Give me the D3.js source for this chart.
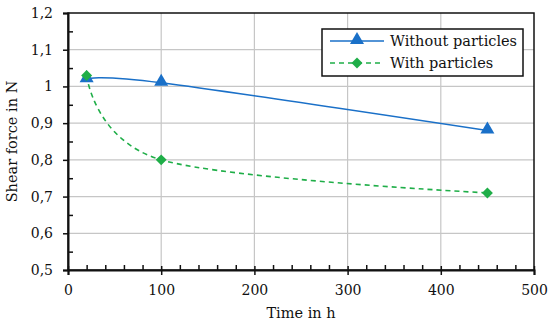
<!DOCTYPE html>
<html>
<head>
<meta charset="utf-8">
<script src="https://cdn.jsdelivr.net/npm/d3@7"></script>
<style>
  body { margin: 0; background: #fff; }
  text { font-family: "DejaVu Serif", serif; fill: #111; }
</style>
</head>
<body>
<svg width="550" height="325"></svg>
<script>
var timeHours = [20, 100, 450];
var withoutParticles = [1.02, 1.01, 0.88];
var withParticles = [1.03, 0.80, 0.71];
var xTicks = [0, 100, 200, 300, 400, 500];
var yTicks = [0.5, 0.6, 0.7, 0.8, 0.9, 1.0, 1.1, 1.2];
var seriesNames = ['Without particles', 'With particles'];

var width = 550;
var height = 325;
var borders = { top: 13, right: 16, bottom: 55, left: 68 };

var svg = d3.select('svg');

var xScale = d3.scaleLinear()
  .domain([0, 500])
  .range([borders.left, width - borders.right]);

var yScale = d3.scaleLinear()
  .domain([0.5, 1.2])
  .range([height - borders.bottom, borders.top]);

var fmt = function(d) { return d3.format('.1f')(d).replace('.0', '').replace('.', ','); };

// grid
svg.append('g').selectAll('line')
  .data(xTicks.slice(1, -1))
  .enter().append('line')
  .attr('x1', d => xScale(d)).attr('x2', d => xScale(d))
  .attr('y1', yScale(0.5)).attr('y2', yScale(1.2))
  .attr('stroke', '#c6c6c6').attr('stroke-width', 1.2);

svg.append('g').selectAll('line')
  .data(yTicks.slice(1, -1))
  .enter().append('line')
  .attr('x1', xScale(0)).attr('x2', xScale(500))
  .attr('y1', d => yScale(d)).attr('y2', d => yScale(d))
  .attr('stroke', '#c6c6c6').attr('stroke-width', 1.2);

// frame
svg.append('rect')
  .attr('x', xScale(0)).attr('y', yScale(1.2))
  .attr('width', xScale(500) - xScale(0))
  .attr('height', yScale(0.5) - yScale(1.2))
  .attr('fill', 'none').attr('stroke', '#111').attr('stroke-width', 1.5);

// bottom axis: major ticks outside, minor ticks inside
var xAxis = svg.append('g')
  .attr('transform', 'translate(0,' + yScale(0.5) + ')')
  .call(d3.axisBottom(xScale).tickValues(xTicks).tickSize(5).tickPadding(10).tickFormat(d3.format('d')));
xAxis.select('.domain').attr('stroke-width', 2).attr('stroke', '#111');
xAxis.selectAll('.tick line').attr('stroke-width', 1.5).attr('y1', -4).attr('stroke', '#111');
xAxis.selectAll('text').attr('font-size', '14px').attr('fill', '#111').style('font-family', '"DejaVu Serif", serif');

svg.append('g').attr('transform', 'translate(0,' + yScale(0.5) + ')')
  .call(d3.axisBottom(xScale).tickValues(d3.range(20, 500, 20).filter(d => d % 100)).tickSize(-5).tickFormat(''))
  .call(g => g.select('.domain').remove())
  .selectAll('.tick line').attr('stroke-width', 1.5).attr('stroke', '#111');

// left axis
var yAxis = svg.append('g')
  .attr('transform', 'translate(' + xScale(0) + ',0)')
  .call(d3.axisLeft(yScale).tickValues(yTicks).tickSize(5).tickPadding(10).tickFormat(fmt));
yAxis.select('.domain').attr('stroke-width', 2).attr('stroke', '#111');
yAxis.selectAll('.tick line').attr('stroke-width', 1.5).attr('stroke', '#111');
yAxis.selectAll('text').attr('font-size', '14px').attr('fill', '#111').style('font-family', '"DejaVu Serif", serif');

svg.append('g').attr('transform', 'translate(' + xScale(0) + ',0)')
  .call(d3.axisLeft(yScale).tickValues(d3.range(0.55, 1.2, 0.1)).tickSize(-5).tickFormat(''))
  .call(g => g.select('.domain').remove())
  .selectAll('.tick line').attr('stroke-width', 1.5).attr('stroke', '#111');

// axis titles
svg.append('text')
  .text('Time in h')
  .attr('text-anchor', 'middle')
  .attr('font-size', '14.5px')
  .attr('x', (xScale(0) + xScale(500)) / 2)
  .attr('y', 318);

svg.append('text')
  .text('Shear force in N')
  .attr('text-anchor', 'middle')
  .attr('font-size', '14.5px')
  .attr('transform', 'translate(17,' + ((yScale(0.5) + yScale(1.2)) / 2) + ')rotate(-90)');

// lines
var line = d3.line()
  .x(d => xScale(d[0]))
  .y(d => yScale(d[1]))
  .curve(d3.curveCardinal.tension(0));

var blue = '#1a70c8';
var green = '#1fae48';

svg.append('path')
  .datum(d3.zip(timeHours, withoutParticles))
  .attr('d', line)
  .attr('fill', 'none').attr('stroke', blue).attr('stroke-width', 1.6);

svg.append('path')
  .datum(d3.zip(timeHours, withParticles))
  .attr('d', line)
  .attr('fill', 'none').attr('stroke', green).attr('stroke-width', 1.6)
  .attr('stroke-dasharray', '5,4');

var tri = d3.symbol().type(d3.symbolTriangle).size(85);
var dia = d3.symbol().type(d3.symbolSquare).size(60);

svg.append('g').selectAll('path')
  .data(d3.zip(timeHours, withoutParticles))
  .enter().append('path')
  .attr('d', tri)
  .attr('fill', blue)
  .attr('transform', d => 'translate(' + xScale(d[0]) + ',' + (yScale(d[1]) - 1) + ')');

svg.append('g').selectAll('path')
  .data(d3.zip(timeHours, withParticles))
  .enter().append('path')
  .attr('d', dia)
  .attr('fill', green)
  .attr('transform', d => 'translate(' + xScale(d[0]) + ',' + yScale(d[1]) + ')rotate(45)');

// legend
var legend = svg.append('g').attr('transform', 'translate(322,29)');
legend.append('rect')
  .attr('width', 201).attr('height', 47)
  .attr('fill', '#fff').attr('stroke', '#111').attr('stroke-width', 1.5);

seriesNames.forEach(function(name, i) {
  var row = legend.append('g').attr('transform', 'translate(0,' + (12 + i * 22) + ')');
  row.append('line')
    .attr('x1', 8).attr('x2', 62)
    .attr('stroke', i ? green : blue).attr('stroke-width', 1.6)
    .attr('stroke-dasharray', i ? '5,4' : null);
  row.append('path')
    .attr('d', i ? dia : tri)
    .attr('fill', i ? green : blue)
    .attr('transform', 'translate(35,' + (i ? 0 : -1) + ')' + (i ? 'rotate(45)' : ''));
  row.append('text')
    .text(name)
    .attr('x', 68).attr('y', 5)
    .attr('font-size', '14.5px');
});
</script>
</body>
</html>
